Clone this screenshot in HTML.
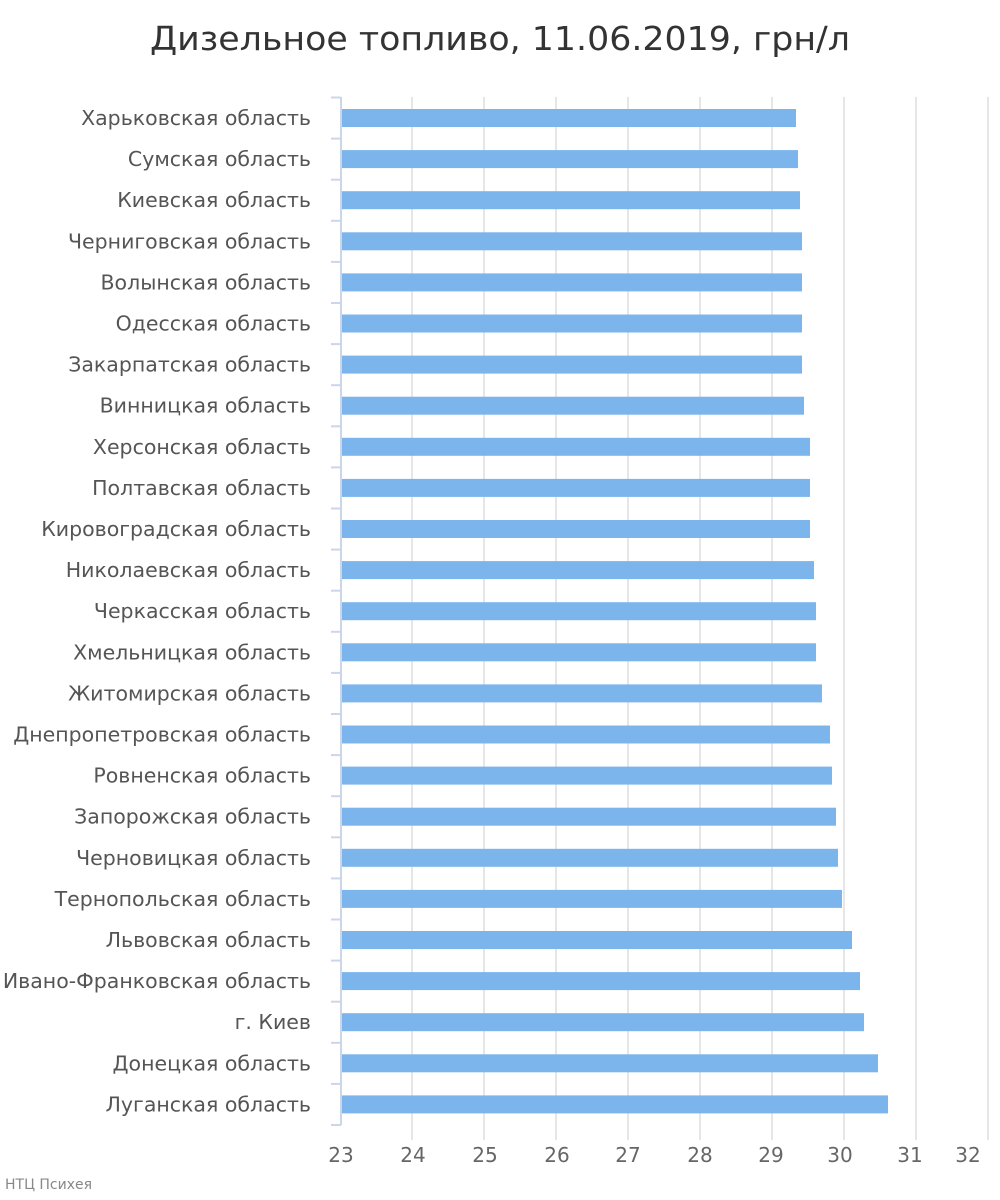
<!DOCTYPE html>
<html><head><meta charset="utf-8"><style>body{margin:0;background:#fff}svg{display:block}</style></head><body>
<svg width="1000" height="1200" xmlns="http://www.w3.org/2000/svg" font-family="DejaVu Sans, Liberation Sans, sans-serif">
<text x="500" y="50" text-anchor="middle" font-size="33" fill="#333" textLength="700" lengthAdjust="spacingAndGlyphs">Дизельное топливо, 11.06.2019, грн/л</text>
<g stroke="#e6e6e6" stroke-width="2">
<line x1="412" y1="97" x2="412" y2="1140"/><line x1="484" y1="97" x2="484" y2="1140"/><line x1="556" y1="97" x2="556" y2="1140"/><line x1="628" y1="97" x2="628" y2="1140"/><line x1="700" y1="97" x2="700" y2="1140"/><line x1="772" y1="97" x2="772" y2="1140"/><line x1="844" y1="97" x2="844" y2="1140"/><line x1="916" y1="97" x2="916" y2="1140"/><line x1="988" y1="97" x2="988" y2="1140"/>
</g>
<g id="bars" fill="#7cb5ec"></g>
<g stroke="#ccd6eb" stroke-width="2" id="ax"><line x1="341" y1="97" x2="341" y2="1125"/></g>
<g id="lab" font-size="20.5" fill="#555" text-anchor="end"></g>
<g font-size="20" fill="#666" text-anchor="middle">
<text x="341" y="1162">23</text><text x="413" y="1162">24</text><text x="485" y="1162">25</text><text x="557" y="1162">26</text><text x="628" y="1162">27</text><text x="700" y="1162">28</text><text x="771" y="1162">29</text><text x="840" y="1162">30</text><text x="910" y="1162">31</text><text x="968" y="1162">32</text>
</g>
<text x="5" y="1189" font-size="14" fill="#888">НТЦ Психея</text>
<script>
var n=["Харьковская область","Сумская область","Киевская область","Черниговская область","Волынская область","Одесская область","Закарпатская область","Винницкая область","Херсонская область","Полтавская область","Кировоградская область","Николаевская область","Черкасская область","Хмельницкая область","Житомирская область","Днепропетровская область","Ровненская область","Запорожская область","Черновицкая область","Тернопольская область","Львовская область","Ивано-Франковская область","г. Киев","Донецкая область","Луганская область"];
var e=[796,798,800,802,802,802,802,804,810,810,810,814,816,816,822,830,832,836,838,842,852,860,864,878,888];
var ns="http://www.w3.org/2000/svg",b=document.getElementById("bars"),l=document.getElementById("lab"),a=document.getElementById("ax");
for(var i=0;i<25;i++){var c=118+i*41.1;
var r=document.createElementNS(ns,"rect");r.setAttribute("x",342);r.setAttribute("y",c-9);r.setAttribute("width",e[i]-342);r.setAttribute("height",18);b.appendChild(r);
var t=document.createElementNS(ns,"text");t.setAttribute("x",311);t.setAttribute("y",c+7);t.textContent=n[i];l.appendChild(t);}
for(var i=0;i<=25;i++){var y=97.5+i*41.1;var k=document.createElementNS(ns,"line");k.setAttribute("x1",331);k.setAttribute("x2",341);k.setAttribute("y1",y);k.setAttribute("y2",y);a.appendChild(k);}
</script>
</svg>
</body></html>
